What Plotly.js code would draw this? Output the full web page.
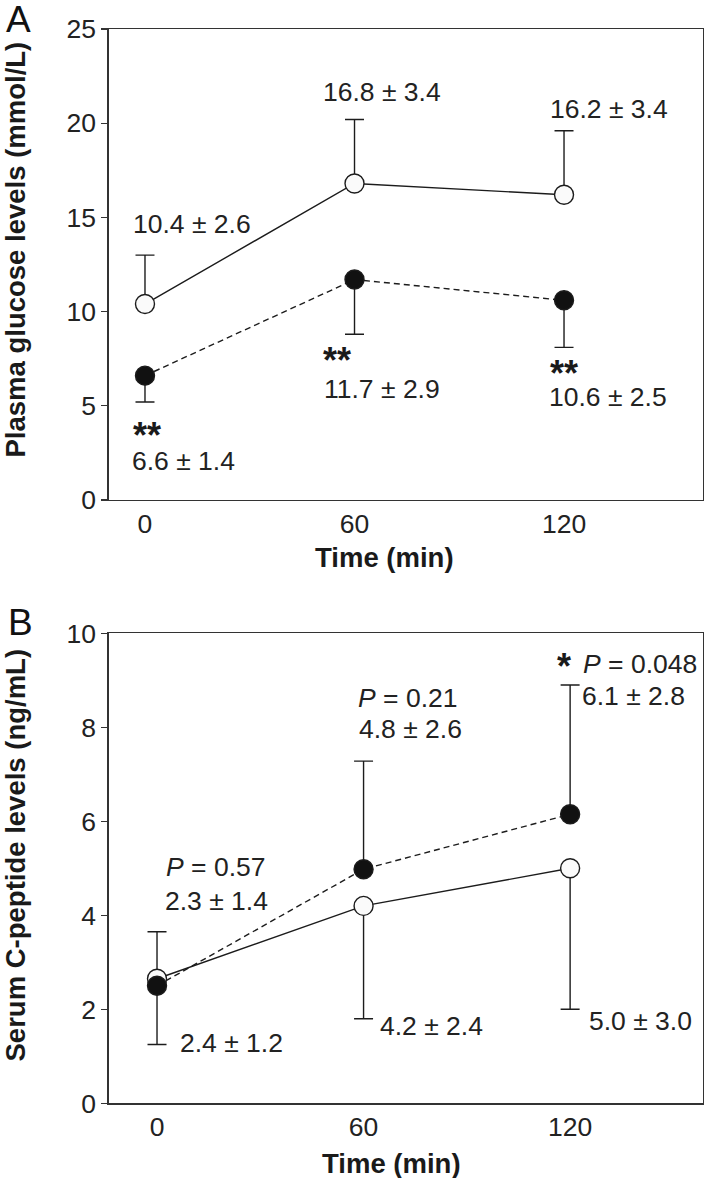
<!DOCTYPE html>
<html>
<head>
<meta charset="utf-8">
<script src="https://cdn.plot.ly/plotly-3.0.1.min.js"></script>
<style>html,body{margin:0;padding:0;background:#fff;}#chart{width:708px;height:1178px;}</style>
</head>
<body>
<div id="chart"></div>
<script>
// ---- data ----
const timeMin = [0, 60, 120];
const timeTickLabels = ['0', '60', '120'];

// Panel A: plasma glucose (mmol/L)
const glucoseOpen = [10.4, 16.8, 16.2];
const glucoseOpenSD = [2.6, 3.4, 3.4];
const glucoseClosed = [6.6, 11.7, 10.6];
const glucoseClosedSD = [1.4, 2.9, 2.5];
const glucoseTicks = [0, 5, 10, 15, 20, 25];

// Panel B: serum C-peptide (ng/mL)
const cpepOpen = [2.65, 4.2, 5.0];
const cpepOpenSD = [1.4, 2.4, 3.0];
const cpepClosed = [2.5, 4.98, 6.15];
const cpepClosedSD = [1.15, 2.3, 2.75];
const cpepTicks = [0, 2, 4, 6, 8, 10];

// Text labels
const glucoseOpenLabels = ['10.4 ± 2.6', '16.8 ± 3.4', '16.2 ± 3.4'];
const glucoseClosedLabels = ['6.6 ± 1.4', '11.7 ± 2.9', '10.6 ± 2.5'];
const glucoseSigLabels = ['**', '**', '**'];
const cpepClosedLabels = ['2.3 ± 1.4', '4.8 ± 2.6', '6.1 ± 2.8'];
const cpepOpenLabels = ['2.4 ± 1.2', '4.2 ± 2.4', '5.0 ± 3.0'];
const cpepPLabels = ['<i>P</i> = 0.57', '<i>P</i> = 0.21', '<i>P</i> = 0.048'];
const cpepSigLabel = '*';

// ---- styles ----
const FONT = 'Liberation Sans, Arial, Helvetica, sans-serif';
const INK = '#1c1c1c';
const AX = '#333333';
const zeros = [0, 0, 0];

function lineTrace(x, y, sdUp, sdDown, dash, xa, ya) {
  return {
    type: 'scatter', mode: 'lines', x: x, y: y, xaxis: xa, yaxis: ya,
    line: {color: INK, width: 1.4, dash: dash},
    error_y: {type: 'data', symmetric: false, array: sdUp, arrayminus: sdDown,
              color: INK, thickness: 1.4, width: 9.5},
    hoverinfo: 'skip', showlegend: false
  };
}
function markerTrace(x, y, filled, xa, ya) {
  return {
    type: 'scatter', mode: 'markers', x: x, y: y, xaxis: xa, yaxis: ya,
    marker: {symbol: 'circle', size: 19, color: filled ? '#111111' : '#fafafa',
             line: {color: INK, width: 1.4}},
    hoverinfo: 'skip', showlegend: false
  };
}

const data = [
  lineTrace(timeMin, glucoseOpen, glucoseOpenSD, zeros, 'solid', 'x', 'y'),
  lineTrace(timeMin, glucoseClosed, zeros, glucoseClosedSD, '6px,4px', 'x', 'y'),
  markerTrace(timeMin, glucoseOpen, false, 'x', 'y'),
  markerTrace(timeMin, glucoseClosed, true, 'x', 'y'),
  lineTrace(timeMin, cpepOpen, zeros, cpepOpenSD, 'solid', 'x2', 'y2'),
  lineTrace(timeMin, cpepClosed, cpepClosedSD, zeros, '6px,4px', 'x2', 'y2'),
  markerTrace(timeMin, cpepOpen, false, 'x2', 'y2'),
  markerTrace(timeMin, cpepClosed, true, 'x2', 'y2')
];

function xAxis(range, anchor) {
  return {
    domain: [0.15325, 0.99294], range: range, anchor: anchor,
    tickmode: 'array', tickvals: timeMin, ticktext: timeTickLabels,
    ticks: '', showgrid: false, zeroline: false,
    showline: true, mirror: true, linecolor: AX, linewidth: 1.3,
    tickfont: {family: FONT, size: 26.5, color: '#222'},
    ticklabelstandoff: 0, fixedrange: true
  };
}
function yAxis(range, domain, ticks, anchor) {
  return {
    domain: domain, range: range, anchor: anchor,
    tickmode: 'array', tickvals: ticks,
    ticks: 'outside', ticklen: 6, tickwidth: 1.3, tickcolor: AX,
    showgrid: false, zeroline: false,
    showline: true, mirror: true, linecolor: AX, linewidth: 1.3,
    tickfont: {family: FONT, size: 26.5, color: '#222'},
    fixedrange: true
  };
}

const annotations = [];
function addText(text, x, y, xa, ya, size, extra) {
  annotations.push(Object.assign({
    text: text, x: x, y: y, xref: xa, yref: ya, showarrow: false,
    xanchor: 'center', yanchor: 'middle',
    font: {family: FONT, size: size, color: '#222'}
  }, extra || {}));
}
const sigFont = {family: FONT, size: 36, color: '#1a1a1a', weight: 'bold'};

// Panel A labels
const aOpenPos = [[13.46, 14.65], [68.0, 21.63], [132.9, 20.76]];
const aClosedPos = [[11.0, 2.07], [67.9, 5.89], [132.7, 5.49]];
const aSigPos = [[0.57, 3.42], [55.1, 7.38], [119.9, 6.74]];
glucoseOpenLabels.forEach((t, i) => addText(t, aOpenPos[i][0], aOpenPos[i][1], 'x', 'y', 26.5));
glucoseClosedLabels.forEach((t, i) => addText(t, aClosedPos[i][0], aClosedPos[i][1], 'x', 'y', 26.5));
glucoseSigLabels.forEach((t, i) => addText('<b>' + t + '</b>', aSigPos[i][0], aSigPos[i][1], 'x', 'y', 36, {font: sigFont}));

// Panel B labels
const bPPos = [[16.85, 5.02], [72.8, 8.63], [140.2, 9.35]];
const bClosedPos = [[17.3, 4.30], [73.5, 7.96], [138.4, 8.67]];
const bOpenPos = [[21.5, 1.29], [79.6, 1.64], [140.3, 1.75]];
cpepPLabels.forEach((t, i) => addText(t, bPPos[i][0], bPPos[i][1], 'x2', 'y2', 26.5));
cpepClosedLabels.forEach((t, i) => addText(t, bClosedPos[i][0], bClosedPos[i][1], 'x2', 'y2', 26.5));
cpepOpenLabels.forEach((t, i) => addText(t, bOpenPos[i][0], bOpenPos[i][1], 'x2', 'y2', 26.5));
addText('<b>' + cpepSigLabel + '</b>', 118.3, 9.30, 'x2', 'y2', 36, {font: sigFont});

// Titles and panel letters
const titleFont = {family: FONT, size: 27.5, color: '#1a1a1a', weight: 'bold'};
addText('<b>Time (min)</b>', 0.5432, 0.5267, 'paper', 'paper', 27.5, {font: titleFont});
addText('<b>Time (min)</b>', 0.5523, 0.0127, 'paper', 'paper', 27.5, {font: titleFont});
addText('<b>Plasma glucose levels (mmol/L)</b>', 0.0219, 0.7878, 'paper', 'paper', 27.5, {font: titleFont, textangle: -90});
addText('<b>Serum C-peptide levels (ng/mL)</b>', 0.0219, 0.2742, 'paper', 'paper', 27.5, {font: titleFont, textangle: -90});
addText('A', 0.0261, 0.98345, 'paper', 'paper', 37, {font: {family: FONT, size: 37, color: '#111'}});
addText('B', 0.029, 0.4716, 'paper', 'paper', 37, {font: {family: FONT, size: 37, color: '#111'}});

const layout = {
  width: 708, height: 1178,
  margin: {l: 0, r: 0, t: 0, b: 0, pad: 0},
  paper_bgcolor: '#ffffff', plot_bgcolor: '#ffffff',
  showlegend: false,
  font: {family: FONT, color: '#222'},
  xaxis: xAxis([-10.45, 159.8], 'y'),
  yaxis: yAxis([0, 25], [0.57555, 0.97538], glucoseTicks, 'x'),
  xaxis2: xAxis([-14.09, 158.6], 'y2'),
  yaxis2: yAxis([0, 10], [0.06341, 0.46239], cpepTicks, 'x2'),
  annotations: annotations
};

Plotly.newPlot('chart', data, layout, {staticPlot: true, displayModeBar: false});
</script>
</body>
</html>
